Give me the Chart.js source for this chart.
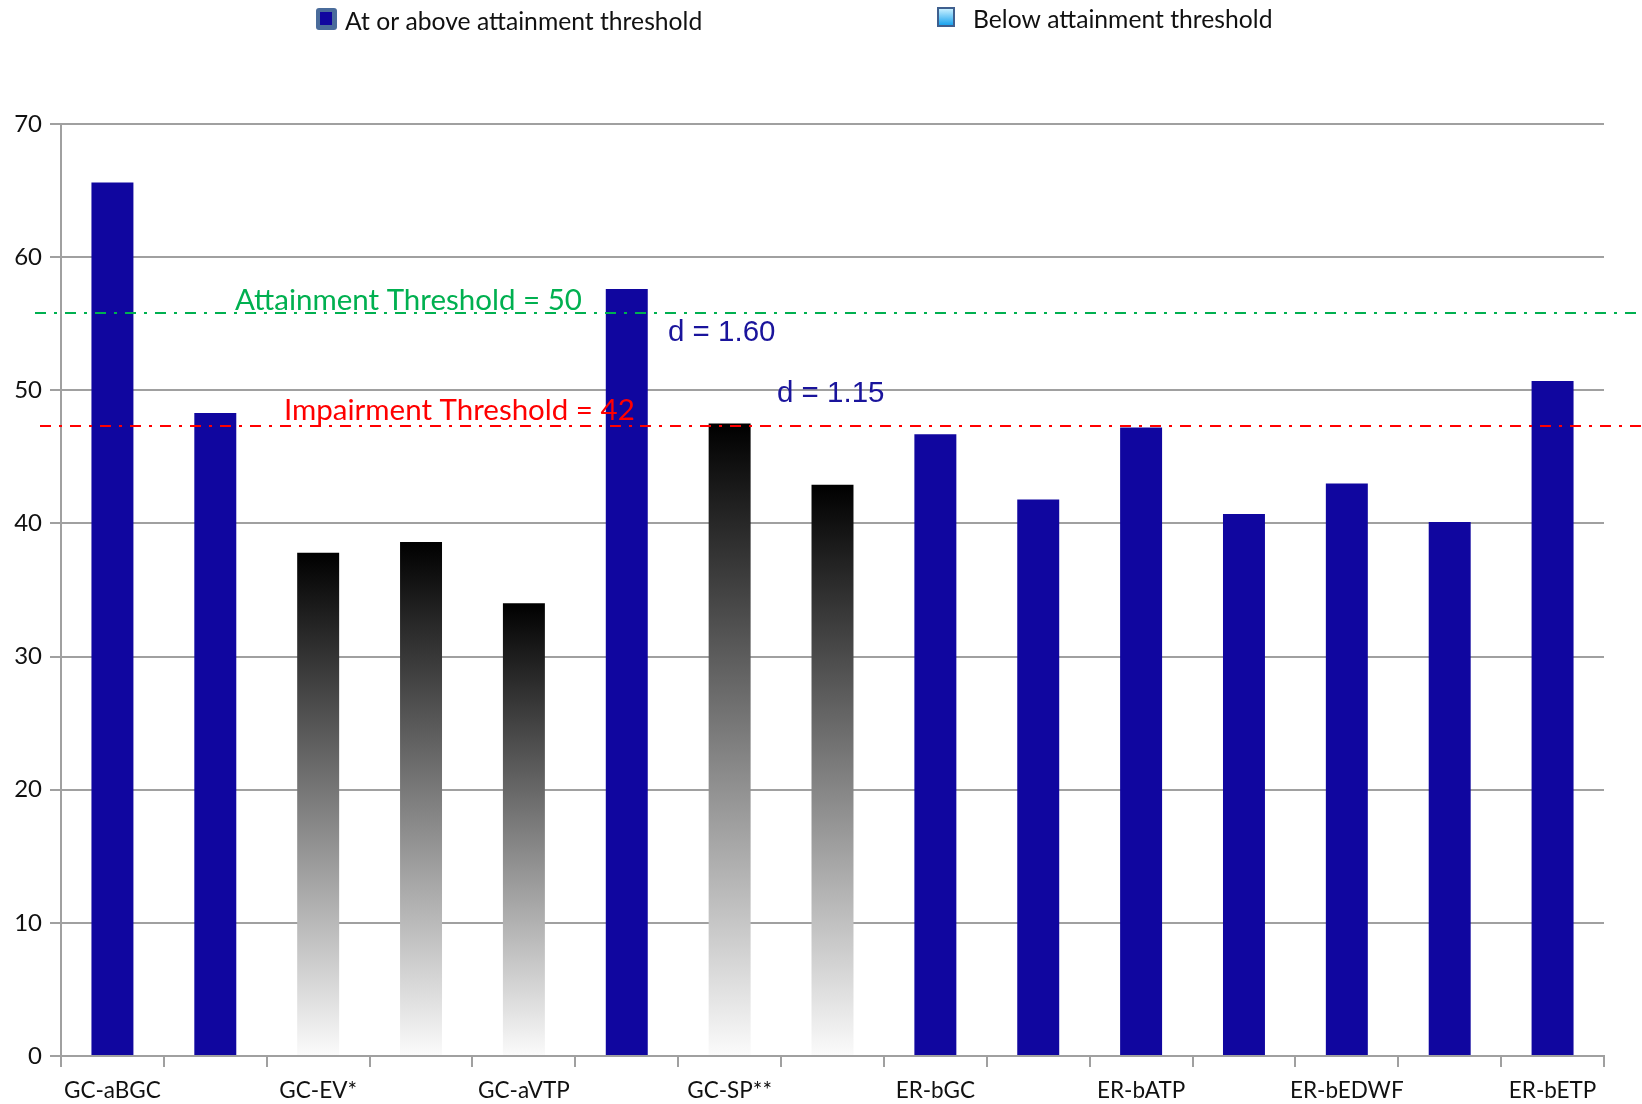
<!DOCTYPE html>
<html>
<head>
<meta charset="utf-8">
<script src="https://cdn.jsdelivr.net/npm/chart.js@4/dist/chart.umd.min.js"></script>
<style>
  html, body { margin: 0; padding: 0; background: #ffffff; }
  #wrap { width: 1642px; height: 1104px; }
</style>
</head>
<body>
<div id="wrap"><canvas id="chart" width="1642" height="1104"></canvas></div>
<script>
// Subtests; only every other category carries a printed name
const categories = ['GC-aBGC', '', 'GC-EV*', '', 'GC-aVTP', '', 'GC-SP**', '',
                    'ER-bGC', '', 'ER-bATP', '', 'ER-bEDWF', '', 'ER-bETP'];
// Mean scores per subtest
const scores = [65.6, 48.3, 37.8, 38.6, 34.0, 57.6, 47.5, 42.9,
                46.7, 41.8, 47.2, 40.7, 43.0, 40.1, 50.7];
// Attainment group of each subtest
const attainment = ['above', 'above', 'below', 'below', 'below', 'above', 'below', 'below',
                    'above', 'above', 'above', 'above', 'above', 'above', 'above'];
// Y axis tick values
const yTickValues = [0, 10, 20, 30, 40, 50, 60, 70];

// Reference thresholds (own scale)
const thresholdNames = ['Attainment Threshold', 'Impairment Threshold'];
const thresholdValues = [50, 42];
// Effect sizes
const effectLabels = ['d = 1.60', 'd = 1.15'];
// Legend entries
const legendLabels = ['At or above attainment threshold', 'Below attainment threshold'];

const BLUE = '#10069f';
const GRID = '#a0a0a0';
const SANS = 'Lato, "Open Sans", sans-serif';

function barFill(ctx) {
  const i = ctx.dataIndex;
  if (attainment[i] === 'above') return BLUE;
  const chart = ctx.chart;
  if (!chart.chartArea) return '#666666';
  const y = chart.scales.y;
  const top = y.getPixelForValue(scores[i]);
  const base = y.getPixelForValue(0);
  const g = chart.ctx.createLinearGradient(0, top, 0, base);
  g.addColorStop(0, '#000000');
  g.addColorStop(1, '#fbfbfb');
  return g;
}

const overlay = {
  id: 'overlay',
  afterDatasetsDraw(chart) {
    const c = chart.ctx;
    const yT = chart.scales.yT;
    const colors = ['#00b050', '#ff0000'];
    const startX = [35, 40];
    const textX = [235, 284];
    const textLift = [3, 6];
    c.save();
    // dash-dot threshold lines
    thresholdValues.forEach((v, i) => {
      const y = Math.round(yT.getPixelForValue(v));
      c.strokeStyle = colors[i];
      c.lineWidth = 2;
      c.setLineDash([11, 8, 3, 8]);
      c.beginPath();
      c.moveTo(startX[i], y);
      c.lineTo(chart.width, y);
      c.stroke();
    });
    c.setLineDash([]);
    // threshold captions
    c.font = '29.5px ' + SANS;
    c.textAlign = 'left';
    c.textBaseline = 'alphabetic';
    thresholdValues.forEach((v, i) => {
      const y = Math.round(yT.getPixelForValue(v));
      c.fillStyle = colors[i];
      c.fillText(thresholdNames[i] + ' = ' + v, textX[i], y - textLift[i]);
    });
    // effect size notes
    c.font = '29.5px "Liberation Sans", Arial, sans-serif';
    c.fillStyle = '#1a149c';
    c.fillText(effectLabels[0], 668, 341);
    c.fillText(effectLabels[1], 777, 402);
    c.restore();
  },
  afterDraw(chart) {
    const c = chart.ctx;
    c.save();
    // legend marker: at or above
    c.fillStyle = '#4a6c9b';
    c.beginPath();
    c.roundRect(316, 8, 21, 22, 3);
    c.fill();
    c.fillStyle = BLUE;
    c.fillRect(320, 12, 12, 13);
    // legend marker: below
    c.fillStyle = '#3f5f8e';
    c.fillRect(937, 7, 18, 20);
    const g = c.createLinearGradient(0, 9, 0, 25);
    g.addColorStop(0, '#c6efff');
    g.addColorStop(1, '#1aa3ee');
    c.fillStyle = g;
    c.fillRect(939, 9, 14, 16);
    // legend text
    c.font = '24.7px ' + SANS;
    c.fillStyle = '#111111';
    c.textBaseline = 'alphabetic';
    c.fillText(legendLabels[0], 345, 30);
    c.fillText(legendLabels[1], 973, 28);
    c.restore();
  }
};

new Chart(document.getElementById('chart'), {
  type: 'bar',
  data: {
    labels: categories,
    datasets: [{
      data: scores,
      backgroundColor: barFill,
      borderWidth: 0,
      categoryPercentage: 1.0,
      barPercentage: 0.408
    }]
  },
  options: {
    responsive: false,
    animation: false,
    events: [],
    layout: { padding: { top: 124, right: 38, left: 0, bottom: 0 } },
    plugins: { legend: { display: false }, tooltip: { enabled: false } },
    scales: {
      x: {
        grid: { display: true, drawOnChartArea: false, drawTicks: true, tickLength: 11, color: GRID, lineWidth: 2, offset: true },
        border: { display: true, color: GRID, width: 2 },
        ticks: { autoSkip: false, maxRotation: 0, color: '#111111', padding: 10, font: { family: SANS, size: 22.5 } },
        afterFit(scale) { scale.height = 48; }
      },
      y: {
        min: 0,
        max: 70,
        afterBuildTicks(scale) { scale.ticks = yTickValues.map(v => ({ value: v })); },
        grid: { color: GRID, lineWidth: 2, tickLength: 11, drawTicks: true },
        border: { display: true, color: GRID, width: 2 },
        ticks: { color: '#111111', padding: 8, font: { family: SANS, size: 24 } },
        afterFit(scale) { scale.width = 61; }
      },
      yT: {
        type: 'linear',
        display: false,
        position: 'left',
        min: -2.36,
        max: 63.29
      }
    }
  },
  plugins: [overlay]
});
</script>
</body>
</html>
